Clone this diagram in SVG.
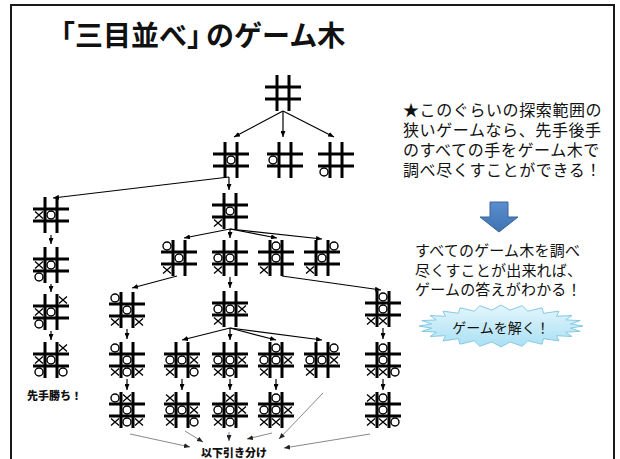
<svg xmlns="http://www.w3.org/2000/svg" xmlns:xlink="http://www.w3.org/1999/xlink" width="620" height="459" viewBox="0 0 620 459">
<style>
.jp{font-family:"Liberation Sans","Noto Sans CJK JP",sans-serif;fill:#111}
.title{font-size:28px;font-weight:bold}
.bold{font-size:11px;font-weight:900}
.grid{fill:none;stroke:#000;stroke-width:3}
.om{fill:none;stroke:#000;stroke-width:1.4}
.xm{fill:none;stroke:#000;stroke-width:1.3}
.tree{fill:none;stroke:#000;stroke-width:1.2;marker-end:url(#ah)}
.thin{fill:none;stroke:#555;stroke-width:0.7;marker-end:url(#ah2)}
</style>
<defs>
<marker id="ah" markerUnits="userSpaceOnUse" markerWidth="6" markerHeight="5" refX="6" refY="2.5" orient="auto"><path d="M0,0L6,2.5L0,5z" fill="#000"/></marker>
<marker id="ah2" markerUnits="userSpaceOnUse" markerWidth="6" markerHeight="5" refX="6" refY="2.5" orient="auto"><path d="M0,0L6,2.5L0,5z" fill="#222"/></marker>
<path id="b" class="grid" d="M-6,-18V18M6,-18V18M-18,-6H18M-18,6H18"/>
<circle id="o" class="om" r="4"/>
<path id="x" class="xm" d="M-4,-3.5L4,3.5M4,-3.5L-4,3.5"/>
<linearGradient id="blue" x1="0" y1="0" x2="0" y2="1"><stop offset="0" stop-color="#5B8ED0"/><stop offset="1" stop-color="#3F72B0"/></linearGradient>
<linearGradient id="cyan" x1="0" y1="0" x2="0" y2="1"><stop offset="0" stop-color="#E4F6FD"/><stop offset="1" stop-color="#A9E0F4"/></linearGradient>
</defs>
<rect width="620" height="459" fill="#fff"/>
<path d="M11,460V5H614V460" fill="none" stroke="#1a1a1a" stroke-width="2"/>
<text class="jp title" x="47" y="46">「三目並べ」<tspan dx="-9">のゲーム木</tspan></text>

<g id="root" transform="translate(283,93)"><use xlink:href="#b"/></g>
<g id="r1a" transform="translate(231,160)"><use xlink:href="#b"/><use xlink:href="#o"/></g>
<g id="r1b" transform="translate(285,160)"><use xlink:href="#b"/><use xlink:href="#o" x="-12"/></g>
<g id="r1c" transform="translate(336,160)"><use xlink:href="#b"/><use xlink:href="#o" x="-12" y="12"/></g>

<g id="l1" transform="translate(51,215)"><use xlink:href="#b"/><use xlink:href="#x" x="-12"/><use xlink:href="#o"/></g>
<g id="l2" transform="translate(51,265)"><use xlink:href="#b"/><use xlink:href="#x" x="-12"/><use xlink:href="#o"/><use xlink:href="#o" x="-12" y="12"/></g>
<g id="l3" transform="translate(51,312)"><use xlink:href="#b"/><use xlink:href="#x" x="12" y="-12"/><use xlink:href="#x" x="-12"/><use xlink:href="#o"/><use xlink:href="#o" x="-12" y="12"/></g>
<g id="l4" transform="translate(51,360)"><use xlink:href="#b"/><use xlink:href="#x" x="12" y="-12"/><use xlink:href="#x" x="-12"/><use xlink:href="#o"/><use xlink:href="#o" x="-12" y="12"/><use xlink:href="#o" x="12" y="12"/></g>
<text id="win" class="jp bold" x="27" y="400">先手勝ち！</text>

<g id="r2" transform="translate(230,211)"><use xlink:href="#b"/><use xlink:href="#o"/><use xlink:href="#x" x="-12" y="12"/></g>

<g id="r3a" transform="translate(179,258)"><use xlink:href="#b"/><use xlink:href="#o" x="-12" y="-12"/><use xlink:href="#o"/><use xlink:href="#x" x="-12" y="12"/></g>
<g id="r3b" transform="translate(230,258)"><use xlink:href="#b"/><use xlink:href="#o" x="-12"/><use xlink:href="#o"/><use xlink:href="#x" x="-12" y="12"/></g>
<g id="r3c" transform="translate(276,258)"><use xlink:href="#b"/><use xlink:href="#o" y="-12"/><use xlink:href="#o"/><use xlink:href="#x" x="-12" y="12"/></g>
<g id="r3d" transform="translate(322,258)"><use xlink:href="#b"/><use xlink:href="#o" x="12" y="-12"/><use xlink:href="#o"/><use xlink:href="#x" x="-12" y="12"/></g>

<g id="r4a" transform="translate(127,310)"><use xlink:href="#b"/><use xlink:href="#o" x="-12" y="-12"/><use xlink:href="#o"/><use xlink:href="#x" x="-12" y="12"/><use xlink:href="#x" x="12" y="12"/></g>
<g id="r4b" transform="translate(230,309)"><use xlink:href="#b"/><use xlink:href="#o" x="-12"/><use xlink:href="#o"/><use xlink:href="#x" x="12"/><use xlink:href="#x" x="-12" y="12"/></g>
<g id="r4c" transform="translate(383,309)"><use xlink:href="#b"/><use xlink:href="#o" y="-12"/><use xlink:href="#o"/><use xlink:href="#x" x="-12" y="12"/><use xlink:href="#x" y="12"/></g>

<g id="r5a" transform="translate(127,360)"><use xlink:href="#b"/><use xlink:href="#o" x="-12" y="-12"/><use xlink:href="#o"/><use xlink:href="#x" x="-12" y="12"/><use xlink:href="#o" y="12"/><use xlink:href="#x" x="12" y="12"/></g>
<g id="r5b" transform="translate(182,360)"><use xlink:href="#b"/><use xlink:href="#o" x="-12"/><use xlink:href="#o"/><use xlink:href="#x" x="12"/><use xlink:href="#x" x="-12" y="12"/><use xlink:href="#o" x="12" y="12"/></g>
<g id="r5c" transform="translate(230,360)"><use xlink:href="#b"/><use xlink:href="#o" x="-12"/><use xlink:href="#o"/><use xlink:href="#x" x="12"/><use xlink:href="#x" x="-12" y="12"/><use xlink:href="#o" y="12"/></g>
<g id="r5d" transform="translate(276,360)"><use xlink:href="#b"/><use xlink:href="#o" y="-12"/><use xlink:href="#o" x="-12"/><use xlink:href="#o"/><use xlink:href="#x" x="12"/><use xlink:href="#x" x="-12" y="12"/></g>
<g id="r5e" transform="translate(322,360)"><use xlink:href="#b"/><use xlink:href="#o" x="12" y="-12"/><use xlink:href="#o" x="-12"/><use xlink:href="#o"/><use xlink:href="#x" x="12"/><use xlink:href="#x" x="-12" y="12"/></g>
<g id="r5f" transform="translate(383,360)"><use xlink:href="#b"/><use xlink:href="#o" y="-12"/><use xlink:href="#o"/><use xlink:href="#x" x="-12" y="12"/><use xlink:href="#x" y="12"/><use xlink:href="#o" x="12" y="12"/></g>

<g id="r6a" transform="translate(127,410)"><use xlink:href="#b"/><use xlink:href="#o" x="-12" y="-12"/><use xlink:href="#x" y="-12"/><use xlink:href="#o"/><use xlink:href="#x" x="-12" y="12"/><use xlink:href="#o" y="12"/><use xlink:href="#x" x="12" y="12"/></g>
<g id="r6b" transform="translate(182,410)"><use xlink:href="#b"/><use xlink:href="#x" x="-12" y="-12"/><use xlink:href="#o" x="-12"/><use xlink:href="#o"/><use xlink:href="#x" x="12"/><use xlink:href="#x" x="-12" y="12"/><use xlink:href="#o" x="12" y="12"/></g>
<g id="r6c" transform="translate(230,410)"><use xlink:href="#b"/><use xlink:href="#x" y="-12"/><use xlink:href="#o" x="-12"/><use xlink:href="#o"/><use xlink:href="#x" x="12"/><use xlink:href="#x" x="-12" y="12"/><use xlink:href="#o" y="12"/></g>
<g id="r6d" transform="translate(276,410)"><use xlink:href="#b"/><use xlink:href="#o" y="-12"/><use xlink:href="#o" x="-12"/><use xlink:href="#o"/><use xlink:href="#x" x="12"/><use xlink:href="#x" x="-12" y="12"/><use xlink:href="#x" y="12"/></g>
<g id="r6f" transform="translate(383,410)"><use xlink:href="#b"/><use xlink:href="#x" x="-12" y="-12"/><use xlink:href="#o" y="-12"/><use xlink:href="#o"/><use xlink:href="#x" x="-12" y="12"/><use xlink:href="#x" y="12"/><use xlink:href="#o" x="12" y="12"/></g>

<text id="draw" class="jp bold" x="234" y="457" text-anchor="middle">以下引き分け</text>

<g id="connectors">
<path class="tree" d="M283,111L234,137"/>
<path class="tree" d="M283,111L283,137"/>
<path class="tree" d="M283,111L334,137"/>
<path class="tree" d="M229,177L53,198"/>
<path class="tree" d="M229,177L229,190"/>
<path class="tree" d="M51,235L51,244"/>
<path class="tree" d="M51,284L51,292"/>
<path class="tree" d="M51,331L51,340"/>
<path class="tree" d="M230,229L184,238"/>
<path class="tree" d="M230,229L230,238"/>
<path class="tree" d="M230,229L277,238"/>
<path class="tree" d="M230,229L322,239"/>
<path class="tree" d="M177,276L132,288"/>
<path class="tree" d="M230,277L230,288"/>
<path class="tree" d="M282,276L381,290"/>
<path class="tree" d="M127,329L127,339"/>
<path class="tree" d="M230,328L182,340"/>
<path class="tree" d="M230,328L230,340"/>
<path class="tree" d="M230,328L276,340"/>
<path class="tree" d="M230,328L322,340"/>
<path class="tree" d="M383,328L383,339"/>
<path class="tree" d="M127,379L127,390"/>
<path class="tree" d="M182,379L182,390"/>
<path class="tree" d="M230,379L230,390"/>
<path class="tree" d="M276,379L276,390"/>
<path class="tree" d="M383,379L383,390"/>
<path class="thin" d="M130,434L190,447"/>
<path class="thin" d="M185,431L203,442"/>
<path class="thin" d="M229,432L229,441"/>
<path class="thin" d="M272,433L247,439"/>
<path class="thin" d="M323,393L279,439"/>
<path class="thin" d="M370,434L284,448"/>
</g>

<g id="note1" class="jp" font-size="16" letter-spacing="0.6">
<text x="403" y="116">★このぐらいの探索範囲の</text>
<text x="403" y="136">狭いゲームなら、先手後手</text>
<text x="403" y="156">のすべての手をゲーム木で</text>
<text x="403" y="176">調べ尽くすことができる！</text>
</g>
<g id="downArrow"><polygon points="490,202 508,202 508,217 518,217 499,232 480,217 490,217" fill="url(#blue)" stroke="#3A6496" stroke-width="1"/></g>
<g id="note2" class="jp" font-size="15" letter-spacing="0.2">
<text x="415" y="256">すべてのゲーム木を調べ</text>
<text x="415" y="275.5">尽くすことが出来れば、</text>
<text x="415" y="295">ゲームの答えがわかる！</text>
</g>
<g id="solve">
<polygon points="583,326 570.4,328.1 580.2,331.4 565.7,332.1 572,336.5 556.5,335.7 559,340.9 543.6,338.7 542,344.2 527.8,340.8 522.2,346.3 510.1,341.9 501,347 491.9,341.9 479.8,346.3 474.2,340.8 460,344.2 458.4,338.7 443,340.9 445.5,335.7 430,336.5 436.3,332.1 421.8,331.4 431.6,328.1 419,326 431.6,323.9 421.8,320.6 436.3,319.9 430,315.5 445.5,316.3 443,311.1 458.4,313.3 460,307.8 474.2,311.2 479.8,305.7 491.9,310.1 501,305 510.1,310.1 522.2,305.7 527.8,311.2 542,307.8 543.6,313.3 559,311.1 556.5,316.3 572,315.5 565.7,319.9 580.2,320.6 570.4,323.9" fill="url(#cyan)" stroke="#86C9E3" stroke-width="1"/>
<text class="jp" font-size="14" x="501" y="333" text-anchor="middle">ゲームを解く！</text>
</g>
</svg>
